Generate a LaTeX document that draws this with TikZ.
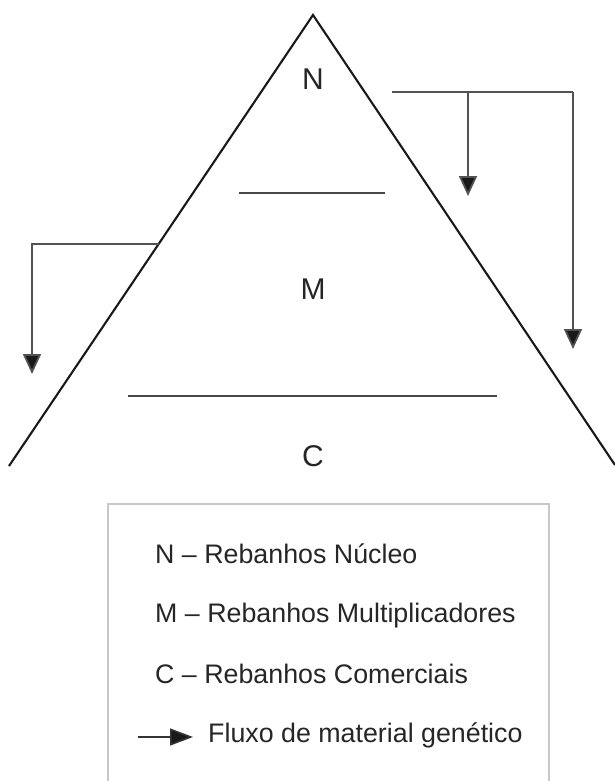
\documentclass[tikz,border=0pt]{standalone}
\usepackage{fontspec}
\setmainfont{Liberation Sans}
\usetikzlibrary{arrows.meta}
\begin{document}
\begin{tikzpicture}[x=1pt,y=-1pt,
  side/.style={line width=2.1pt,draw=black!90},
  divider/.style={line width=2.2pt,draw=black!72},
  flow/.style={line width=1.8pt,draw=black!68,-{Triangle[width=18pt,length=20pt,fill=black!90]}},
  branch/.style={line width=1.8pt,draw=black!68},
  lvl/.style={font=\fontsize{30}{32}\selectfont,text=black!85,inner sep=0pt},
  leg/.style={font=\fontsize{26.8}{28}\selectfont,text=black!85,anchor=base west,inner sep=0pt},
  legbox/.style={line width=1.5pt,draw=black!22}]
\useasboundingbox (0,0) rectangle (615,781);
% pyramid
\coordinate (apex) at (313,15);
\coordinate (bl) at (9,466);
\coordinate (br) at (615,465);
\draw[side,line join=miter] (bl) -- (apex) -- (br);
\coordinate (d1a) at (239,193);
\coordinate (d1b) at (385,193);
\coordinate (d2a) at (128,396);
\coordinate (d2b) at (497,396);
\draw[divider] (d1a) -- (d1b);
\draw[divider] (d2a) -- (d2b);
\node[lvl] (N) at (313,79) {N};
\node[lvl] (M) at (313,289) {M};
\node[lvl] (C) at (313,456) {C};
% right flows
\coordinate (rs) at (392,92);
\coordinate (rm) at (468,92);
\coordinate (rr) at (573,92);
\coordinate (rmt) at (468,196);
\coordinate (rrt) at (573,349);
\draw[branch] (rs) -- (rr);
\draw[flow] (rm) -- (rmt);
\draw[flow] (rr) -- (rrt);
% left flow
\coordinate (ls) at (158.6,244);
\coordinate (lc) at (32,244);
\coordinate (lt) at (32,374);
\draw[flow,line join=miter] (ls) -- (lc) -- (lt);
% legend
\draw[legbox] (108,790) -- (108,504) -- (549,504) -- (549,790);
\node[leg] (l1) at (155,563) {N – Rebanhos Núcleo};
\node[leg] (l2) at (155,622) {M – Rebanhos Multiplicadores};
\node[leg] (l3) at (155,683) {C – Rebanhos Comerciais};
\node[leg] (l4) at (208,742) {Fluxo de material genético};
\coordinate (la) at (138,737);
\coordinate (lb) at (193,737);
\draw[line width=1.6pt,draw=black!80,-{Triangle[width=17pt,length=23pt,fill=black!90]}] (la) -- (lb);
\end{tikzpicture}
\end{document}
